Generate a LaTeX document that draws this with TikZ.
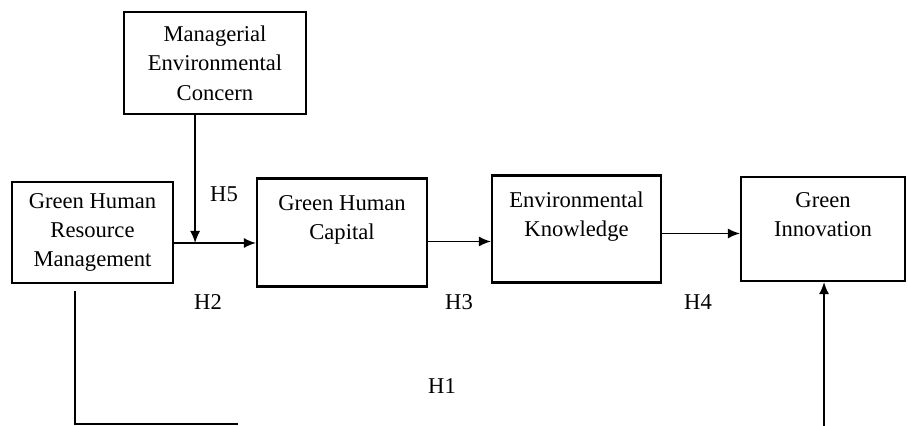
\documentclass[tikz,border=0pt]{standalone}
\usepackage{fontspec}
\setmainfont{Liberation Serif}
\usetikzlibrary{positioning,arrows.meta}
\begin{document}
\begin{tikzpicture}[x=0.5pt,y=-0.5pt,node distance=2cm]

% Definitions
\tikzstyle{Variable} = [rectangle, draw=black, line width=1.1pt, align=center, font=\fontsize{11.3pt}{14.7pt}\selectfont]
\tikzstyle{Hyp} = [font=\fontsize{11.3pt}{14.7pt}\selectfont]
\tikzstyle{arrow} = [line width=0.75pt,->,>={Latex[length=6pt,width=5pt]}]

\useasboundingbox (0,0) rectangle (908,426);

\node (GHRM) [Variable, minimum width=80.5pt, minimum height=50.5pt] at (92.5,232.5) {Green Human\\Resource\\Management};
\node (GHC) [Variable, minimum width=85pt, minimum height=54pt, right of= GHRM, xshift=67.85pt] {Green Human\\Capital\\~};
\node (EK) [Variable, minimum width=84.5pt, minimum height=53.5pt, right of= GHC, xshift=60.35pt, yshift=1.75pt] {Environmental\\Knowledge\\~};
\node (GI) [Variable, minimum width=82pt, minimum height=52pt, right of= EK, xshift=66.35pt] {Green\\Innovation\\~};

\node (MEC) [Variable, minimum width=91pt, minimum height=51pt, above of= GHRM, xshift=61.25pt, yshift=27.85pt] {Managerial\\Environmental\\Concern};

\draw [arrow] ([yshift=-5.25pt]GHRM.east) -- ([yshift=-5.25pt]GHRM.east -| GHC.west);
\coordinate (Mod) at ([xshift=10.5pt,yshift=-5.25pt]GHRM.east);
\draw [arrow] (MEC.south -| Mod) -- (Mod);
\draw [arrow] ([yshift=-4.5pt]GHC.east) -- ([yshift=-4.5pt]GHC.east -| EK.west);
\draw [arrow] ([yshift=-2.25pt]EK.east) -- ([yshift=-2.25pt]EK.east -| GI.west);

\coordinate (H1end) at (238,424);
\draw [line width=0.75pt] ([xshift=-8.75pt,yshift=-3.5pt]GHRM.south) |- (H1end);
\coordinate (H1start) at (824,426);
\draw [arrow] (H1start) -- (H1start |- GI.south);

\node (H5) [Hyp] at (224,194) {H5};
\node (H2) [Hyp] at (208,302) {H2};
\node (H3) [Hyp] at (459,302) {H3};
\node (H4) [Hyp] at (698,302) {H4};
\node (H1) [Hyp] at (442,386) {H1};

\end{tikzpicture}
\end{document}
